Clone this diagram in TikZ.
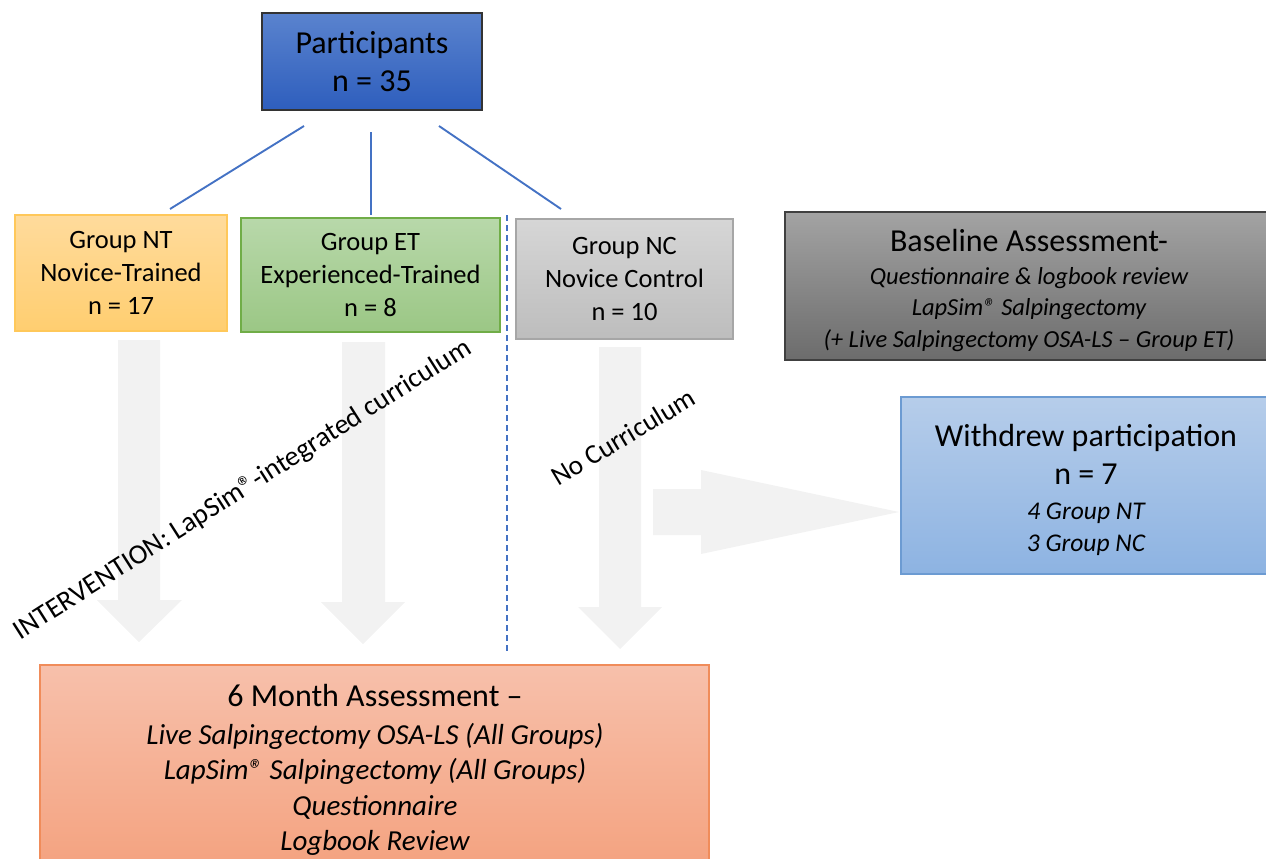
\documentclass[tikz,border=0pt]{standalone}
\usepackage{fontspec}
\setmainfont{Carlito}
\usetikzlibrary{calc}
\definecolor{linkblue}{HTML}{4472C4}
\definecolor{arrowgray}{HTML}{F2F2F2}
\begin{document}
\begin{tikzpicture}[x=1pt,y=-1pt,
  box/.style={draw, line width=1.2pt, inner sep=0pt, align=center},
  txt/.style={inner sep=0pt, align=center},
  link/.style={draw=linkblue, line width=1.9pt},
  blockarrow/.style={fill=arrowgray, draw=none},
  rot/.style={inner sep=0pt}
]
\useasboundingbox (0,0) rectangle (1266,859);

% block arrows (background)
\fill[blockarrow] (118,340) -- (160,340) -- (160,600) -- (182,600) -- (139,642) -- (97,600) -- (118,600) -- cycle;
\fill[blockarrow] (342,342) -- (385,342) -- (385,602) -- (405,602) -- (363,644) -- (321,602) -- (342,602) -- cycle;
\fill[blockarrow] (599,347) -- (641,347) -- (641,607) -- (662,607) -- (620,649) -- (578,607) -- (599,607) -- cycle;
\fill[blockarrow] (653,489) -- (701,489) -- (701,470) -- (899,512) -- (701,554) -- (701,535) -- (653,535) -- cycle;

% boxes
\node[box, draw=black!80, top color={rgb,255:red,90;green,131;blue,206}, bottom color={rgb,255:red,46;green,94;blue,189},
  minimum width=220pt, minimum height=97pt, font=\fontsize{32}{38}\selectfont]
  (part) at (372,61.5) {Participants\\n = 35};

\node[box, draw={rgb,255:red,255;green,200;blue,90}, top color={rgb,255:red,255;green,219;blue,156}, bottom color={rgb,255:red,255;green,206;blue,112},
  minimum width=212pt, minimum height=116pt, font=\fontsize{26.5}{33}\selectfont]
  (nt) at (121,273) {Group NT\\Novice-Trained\\n = 17};

\node[box, draw={rgb,255:red,112;green,173;blue,71}, top color={rgb,255:red,184;green,216;blue,170}, bottom color={rgb,255:red,155;green,199;blue,133},
  minimum width=259pt, minimum height=114pt, font=\fontsize{26.5}{33}\selectfont]
  (et) at (370.5,275) {Group ET\\Experienced-Trained\\n = 8};

\node[box, draw={rgb,255:red,166;green,166;blue,166}, top color={rgb,255:red,214;green,214;blue,214}, bottom color={rgb,255:red,189;green,189;blue,189},
  minimum width=217pt, minimum height=120pt, font=\fontsize{26.5}{33}\selectfont]
  (nc) at (624.5,279) {Group NC\\Novice Control\\n = 10};

\node[box, draw=black!75, top color={rgb,255:red,163;green,163;blue,163}, bottom color={rgb,255:red,108;green,108;blue,108},
  minimum width=482pt, minimum height=148pt]
  (base) at (1026,286) {};
\node[txt, font=\fontsize{24.5}{31.5}\selectfont] (basetext) at (1029,290.5)
  {{\fontsize{32}{31.5}\selectfont Baseline Assessment-}\\[1pt]
  {\itshape Questionnaire \& logbook review}\\
  {\itshape LapSim® Salpingectomy}\\
  {\itshape (+ Live Salpingectomy OSA-LS – Group ET)}};

\node[box, draw={rgb,255:red,108;green,155;blue,210}, top color={rgb,255:red,182;green,205;blue,234}, bottom color={rgb,255:red,141;green,179;blue,226},
  minimum width=366pt, minimum height=177pt]
  (wd) at (1084,485.5) {};
\node[txt, font=\fontsize{25.5}{32}\selectfont] (wdtext) at (1086,490)
  {{\fontsize{32}{32}\selectfont Withdrew participation}\\[6pt]
  {\fontsize{32}{32}\selectfont n = 7}\\[3pt]
  {\itshape 4 Group NT}\\
  {\itshape 3 Group NC}};

\node[box, draw={rgb,255:red,240;green,140;blue,90}, top color={rgb,255:red,247;green,192;blue,171}, bottom color={rgb,255:red,244;green,162;blue,127},
  minimum width=669pt, minimum height=206pt]
  (six) at (374.5,768) {};
\node[txt, font=\fontsize{29}{35.5}\selectfont] (sixtext) at (375,770)
  {{\fontsize{32}{35.5}\selectfont 6 Month Assessment –}\\[2.5pt]
  {\itshape Live Salpingectomy OSA-LS (All Groups)}\\
  {\itshape LapSim® Salpingectomy (All Groups)}\\
  {\itshape Questionnaire}\\
  {\itshape Logbook Review}};

% connectors
\coordinate (l1) at (304,126);
\coordinate (l2) at (371,132);
\coordinate (l3) at (439,126);
\coordinate (l1e) at (170,209);
\coordinate (l2e) at (371,215);
\coordinate (l3e) at (561,209);
\draw[link] (l1) -- (l1e);
\draw[link] (l2) -- (l2e);
\draw[link] (l3) -- (l3e);

\coordinate (d1) at (507,215);
\coordinate (d2) at (507,652);
\draw[draw=linkblue, line width=2pt, dash pattern=on 6pt off 4pt] (d1) -- (d2);

% rotated labels
\node[rot, rotate=32.5, font=\fontsize{28}{30}\selectfont] (interv) at (243,490) {INTERVENTION: LapSim®-integrated curriculum};
\node[rot, rotate=31, font=\fontsize{27.5}{30}\selectfont] (nocur) at (623,437) {No Curriculum};
\end{tikzpicture}
\end{document}
